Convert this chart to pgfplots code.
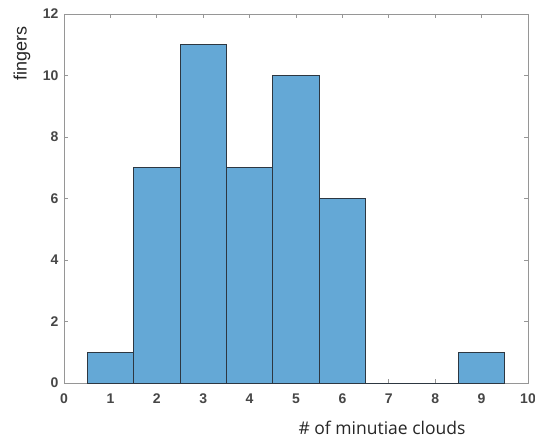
\documentclass[border=0pt]{standalone}
\usepackage{pgfplots}
\pgfplotsset{compat=1.18}
\usepackage{fontspec}
\setmainfont{Liberation Sans}
\newfontfamily\labfont{Open Sans}
\definecolor{barfill}{RGB}{100,168,214}
\definecolor{baredge}{RGB}{45,55,65}
\definecolor{axgray}{RGB}{150,150,150}
\definecolor{txtgray}{RGB}{70,70,70}
\begin{document}
\begin{tikzpicture}
\path[use as bounding box] (-64pt,-59pt) rectangle (471pt,383pt);
\begin{axis}[
  at={(0,0)}, anchor=south west,
  scale only axis, width=464pt, height=369pt,
  xmin=0, xmax=10, ymin=0, ymax=12,
  xtick={0,1,...,10}, ytick={0,2,...,12},
  axis line style={axgray, line width=0.9pt},
  tick style={axgray, line width=0.9pt},
  major tick length=4pt,
  tick align=inside,
  tick pos=both,
  /pgf/number format/assume math mode=true,
  ticklabel style={font=\fontsize{14}{16}\selectfont\bfseries, text=txtgray},
  xticklabel style={yshift=-7pt},
  yticklabel style={xshift=-2pt},
  xlabel={\labfont \# of minutiae clouds},
  ylabel={fingers},
  xlabel style={at={(axis description cs:0.6853,0)}, anchor=center, yshift=-45pt, font=\fontsize{17.5}{20}\selectfont, text=black!85},
  ylabel style={at={(axis description cs:0,0.892)}, anchor=center, yshift=42pt, font=\fontsize{18}{20}\selectfont, text=black!85},
]
\addplot[ybar interval, fill=barfill, draw=baredge, line width=0.8pt]
  coordinates {(0.5,1) (1.5,7) (2.5,11) (3.5,7) (4.5,10) (5.5,6) (6.5,0) (7.5,0) (8.5,1) (9.5,1)};
\addplot[baredge, line width=1pt] coordinates {(6.5,0) (8.5,0)};
\end{axis}
\end{tikzpicture}
\end{document}
